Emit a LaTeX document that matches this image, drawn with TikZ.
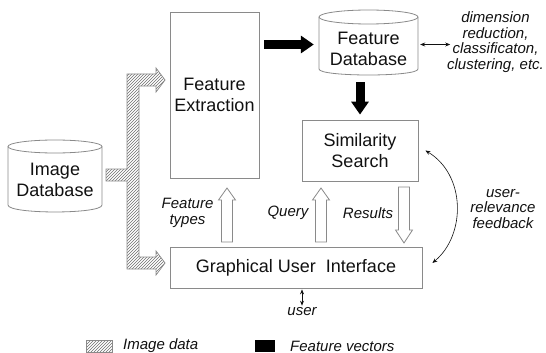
\documentclass[tikz,border=0pt]{standalone}
\usepackage{fontspec}
\setmainfont{Liberation Sans}
\usetikzlibrary{patterns,arrows.meta,calc}
\definecolor{boxgray}{HTML}{8A8A8A}
\definecolor{hatchgray}{HTML}{6E6E6E}
\definecolor{txt}{HTML}{111111}
\begin{document}
\begin{tikzpicture}[x=1pt,y=-1pt,
  box/.style={draw=boxgray, line width=0.8pt, inner sep=0pt, align=center, text=txt, font=\fontsize{18}{21}\selectfont},
  cyltext/.style={inner sep=0pt, align=center, text=txt, font=\fontsize{18}{21}\selectfont},
  lbl/.style={inner sep=0pt, align=center, text=txt, font=\fontsize{15}{15.5}\selectfont\itshape},
  cylline/.style={draw=boxgray, line width=0.8pt, fill=white},
  hollow/.style={draw=boxgray, line width=0.8pt, fill=white, line join=miter},
  blk/.style={line width=9pt, black, -{Triangle[length=13pt,width=17pt]}},
  thinarr/.style={line width=0.7pt, txt, {Stealth[length=5pt,width=4pt]}-{Stealth[length=5pt,width=4pt]}},
  hatch/.style={draw=boxgray, line width=0.7pt, pattern=north east lines, pattern color=hatchgray}
]
\useasboundingbox (0,0) rectangle (546,353);

% ---- Image Database cylinder
\draw[cylline] (8,146.5) -- (8,205) .. controls (8,214.3) and (102,214.3) .. (102,205) -- (102,146.5);
\draw[cylline] (55,146.5) ellipse [x radius=47pt, y radius=6.5pt];
\node[minimum width=94pt, minimum height=66pt, inner sep=0pt] (idb) at (55,179.5) {};
\node[cyltext] (idbt) at (55,180) {Image\\Database};

% ---- Feature Database cylinder
\draw[cylline] (319,17) -- (319,69) .. controls (319,77) and (418,77) .. (418,69) -- (418,17);
\draw[cylline] (368.5,17) ellipse [x radius=49.5pt, y radius=7pt];
\node[minimum width=99pt, minimum height=55pt, inner sep=0pt] (fdb) at (368.5,44.5) {};
\node[cyltext] (fdbt) at (368.5,49) {Feature\\Database};

% ---- boxes
\node[box, minimum width=89pt, minimum height=166pt] (fe) at (214.5,95) {Feature\\Extraction};
\node[box, minimum width=116pt, minimum height=61pt] (ss) at (360,150.5) {Similarity\\Search};
\node[box, minimum width=252pt, minimum height=41pt] (gui) at (296,267.5) {Graphical User~~Interface};

% ---- hatched image-data arrows
\draw[hatch] (127,74) -- (156,74) -- (156,68) -- (165,80) -- (156,92) -- (156,86) -- (139,86)
  -- (139,257) -- (156,257) -- (156,251) -- (165,263) -- (156,275) -- (156,269) -- (127,269)
  -- (127,181) -- (106,181) -- (106,169) -- (127,169) -- cycle;

% ---- black feature-vector arrows
\draw[blk, shorten <=5pt, shorten >=5pt] (fe.east |- fdb.center) -- (fdb.west);
\draw[blk, shorten <=10pt, shorten >=5pt] (ss.north |- fdb.south) -- (ss.north);

% ---- hollow arrows
\draw[hollow] (221.5,242) -- (221.5,200) -- (218.5,200) -- (227,188) -- (235.5,200) -- (232.5,200) -- (232.5,242) -- cycle;
\draw[hollow] (315.5,242) -- (315.5,200) -- (312.5,200) -- (321,188) -- (329.5,200) -- (326.5,200) -- (326.5,242) -- cycle;
\draw[hollow] (398.5,187) -- (398.5,230) -- (395.5,230) -- (404,243) -- (412.5,230) -- (409.5,230) -- (409.5,187) -- cycle;

% ---- labels
\node[lbl] (ftl) at (187.5,213) {Feature\\types};
\node[lbl] (ql) at (288,213) {Query};
\node[lbl] (rl) at (368,213) {Results};
\node[lbl] (dim) at (495.5,42) {dimension\\reduction,\\classificaton,\\clustering, etc.};
\node[lbl] (urf) at (503,209) {user-\\relevance\\feedback};
\node[lbl] (usr) at (302,312) {user};

% ---- thin arrows
\draw[thinarr] ([xshift=2pt]fdb.east) -- ([xshift=32pt]fdb.east);
\draw[thinarr] ([yshift=-1pt]gui.south -| usr.north) -- ([yshift=2pt]usr.north);
\draw[thinarr, line width=0.6pt] ($(ss.east)+(7,0)$) .. controls (466,175) and (466,235) .. ($(gui.east)+(10,-4.5)$);

% ---- legend
\draw[hatch] (86,340) rectangle (112,352);
\node[lbl, anchor=west] (leg1) at (123,346) {Image data};
\fill[black] (255,340) rectangle (275,352);
\node[lbl, anchor=west] (leg2) at (290,346) {Feature vectors};
\end{tikzpicture}
\end{document}
